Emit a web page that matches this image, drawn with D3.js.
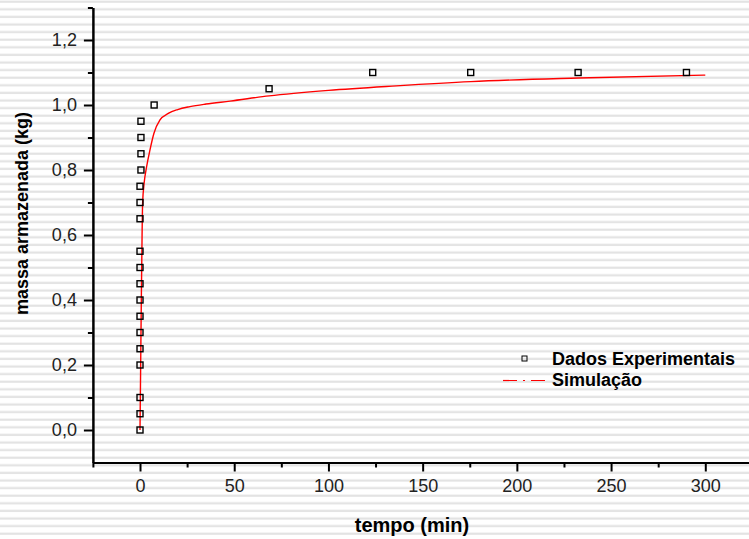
<!DOCTYPE html>
<html>
<head>
<meta charset="utf-8">
<script src="https://cdn.jsdelivr.net/npm/d3@7"></script>
<style>
	body { margin: 0; background: #fff; }
	svg { display: block; font-family: Arial, "Liberation Sans", sans-serif; }
</style>
</head>
<body>
<div class="chart"></div>
<script>
// dados experimentais
var expTempo = [0, 0, 0, 0, 0, 0, 0, 0, 0, 0, 0, 0, 0, 0, 0.5, 0.5, 0.5, 0.5, 7.5, 68.5, 123.5, 175.5, 232.5, 290];
var expMassa = [0, 0.05, 0.1, 0.2, 0.25, 0.3, 0.35, 0.4, 0.45, 0.5, 0.55, 0.65, 0.7, 0.75, 0.8, 0.85, 0.9, 0.95, 1.0, 1.05, 1.1, 1.1, 1.1, 1.1];

// curva simulada
var simTempo = [0, 0.35, 0.7, 1.1, 1.4, 2.2, 3.5, 5.3, 7.4, 10.6, 15, 20, 26.5, 35, 47.8, 68.5, 100, 136, 175.5, 232.7, 300];
var simMassa = [0, 0.2, 0.4, 0.6, 0.7, 0.76, 0.81, 0.862, 0.913, 0.954, 0.974, 0.986, 0.995, 1.003, 1.012, 1.028, 1.045, 1.059, 1.072, 1.083, 1.092];

var xMajor = [0, 50, 100, 150, 200, 250, 300];
var xMinor = [-25, 25, 75, 125, 175, 225, 275];
var yMajor = [0, 0.2, 0.4, 0.6, 0.8, 1.0, 1.2];
var yMinor = [0.1, 0.3, 0.5, 0.7, 0.9, 1.1, 1.3];

var legendLabels = ["Dados Experimentais", "Simulação"];

var width = 749, height = 539;

var svg = d3.select(".chart")
	.append("svg")
		.attr("width", width)
		.attr("height", height);

//striped background
var pattern = svg.append("defs")
	.append("pattern")
		.attr("id", "stripes")
		.attr("patternUnits", "userSpaceOnUse")
		.attr("width", 10)
		.attr("height", 7.6);
pattern.append("rect")
	.attr("width", 10).attr("height", 7.6).attr("fill", "#fff");
pattern.append("rect")
	.attr("y", 0.6).attr("width", 10).attr("height", 2.2).attr("fill", "#e3e3e3");
svg.append("rect")
	.attr("width", width)
	.attr("height", height)
	.attr("fill", "url(#stripes)");

var x = d3.scaleLinear().domain([-25, 325]).range([92.9, 752.4]);
var y = d3.scaleLinear().domain([-0.1, 1.3]).range([462.5, 7.5]);

var fmt = function(d) { return d3.format(".1f")(d).replace(".", ","); };

//axes
var yAxisG = svg.append("g").attr("transform", "translate(" + x(-25) + ",0)");
yAxisG.call(d3.axisLeft(y).tickValues(yMajor).tickSize(9).tickSizeOuter(0).tickPadding(7).tickFormat(fmt));
var yMinorG = svg.append("g").attr("transform", "translate(" + x(-25) + ",0)");
yMinorG.call(d3.axisLeft(y).tickValues(yMinor).tickSize(5).tickSizeOuter(0).tickFormat(""));

var xAxisG = svg.append("g").attr("transform", "translate(0," + y(-0.1) + ")");
xAxisG.call(d3.axisBottom(x).tickValues(xMajor).tickSize(9).tickSizeOuter(0).tickPadding(8));
var xMinorG = svg.append("g").attr("transform", "translate(0," + y(-0.1) + ")");
xMinorG.call(d3.axisBottom(x).tickValues(xMinor).tickSize(5).tickSizeOuter(0).tickFormat(""));

svg.selectAll(".domain, .tick line")
	.attr("stroke", "#000")
	.attr("stroke-width", 2);
svg.selectAll(".tick text")
	.attr("font-size", "18px")
	.attr("font-family", "Arial, 'Liberation Sans', sans-serif")
	.attr("fill", "#222");

//axis titles
svg.append("text")
	.attr("x", 412)
	.attr("y", 532)
	.attr("text-anchor", "middle")
	.attr("font-size", "20px")
	.attr("font-weight", "bold")
	.text("tempo (min)");
svg.append("text")
	.attr("transform", "translate(28,315) rotate(-90)")
	.attr("font-size", "18px")
	.attr("font-weight", "bold")
	.text("massa armazenada (kg)");

//simulation line
var simData = simTempo.map(function(d, i) { return [d, simMassa[i]]; });
svg.append("path")
	.datum(simData)
	.attr("fill", "none")
	.attr("stroke", "#ff0000")
	.attr("stroke-width", 1.4)
	.attr("d", d3.line()
		.x(function(d) { return x(d[0]); })
		.y(function(d) { return y(d[1]); })
		.curve(d3.curveMonotoneX));

//experimental points
var expData = expTempo.map(function(d, i) { return [d, expMassa[i]]; });
svg.selectAll(".exp-point")
	.data(expData)
	.enter()
		.append("rect")
			.attr("class", "exp-point")
			.attr("x", function(d) { return x(d[0]) - 3; })
			.attr("y", function(d) { return y(d[1]) - 3; })
			.attr("width", 6)
			.attr("height", 6)
			.attr("fill", "none")
			.attr("stroke", "#000")
			.attr("stroke-width", 1.4);

//legend
var legend = svg.append("g");
legend.append("rect")
	.attr("x", 522)
	.attr("y", 356)
	.attr("width", 5)
	.attr("height", 5)
	.attr("fill", "none")
	.attr("stroke", "#000")
	.attr("stroke-width", 1);
legend.append("line")
	.attr("x1", 503).attr("x2", 546)
	.attr("y1", 380.5).attr("y2", 380.5)
	.attr("stroke", "#ff0000")
	.attr("stroke-width", 1.2)
	.attr("stroke-dasharray", "14,6,2,6");
legend.selectAll(".legend-text")
	.data(legendLabels)
	.enter()
		.append("text")
			.attr("class", "legend-text")
			.attr("x", 552)
			.attr("y", function(d, i) { return 364.5 + i * 21.5; })
			.attr("font-size", "18px")
			.attr("font-weight", "bold")
			.text(function(d) { return d; });
</script>
</body>
</html>
